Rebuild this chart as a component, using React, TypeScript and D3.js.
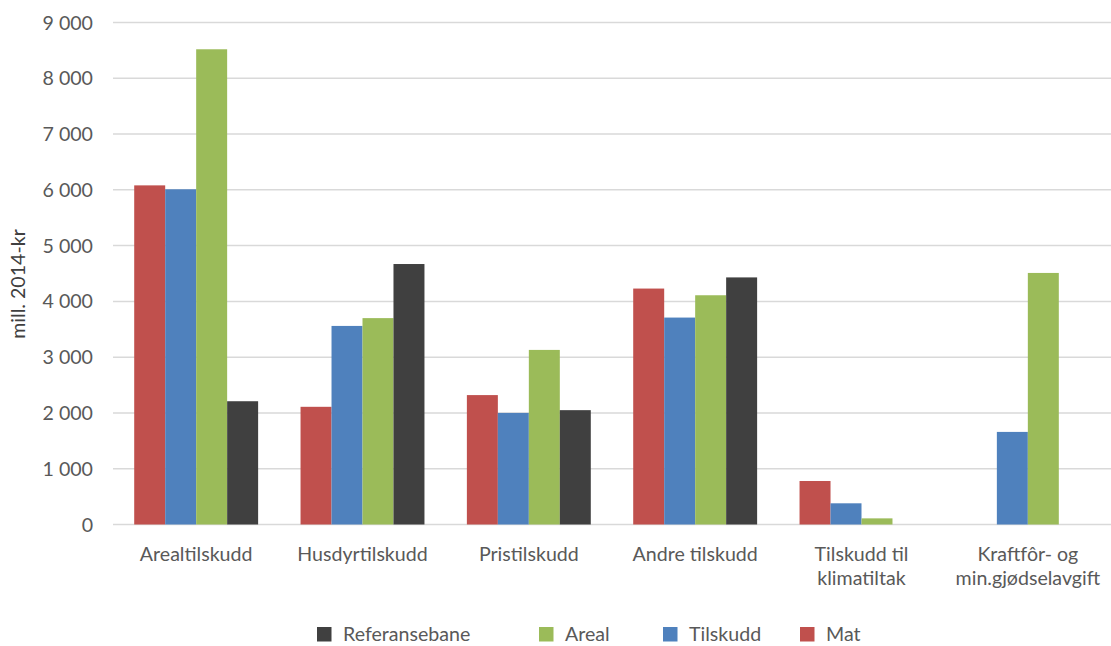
import React from "react";
import * as d3 from "d3";

// Categories (x axis), with line breaks for wrapped labels
const categories = [
  "Arealtilskudd",
  "Husdyrtilskudd",
  "Pristilskudd",
  "Andre tilskudd",
  "Tilskudd til\nklimatiltak",
  "Kraftfôr- og\nmin.gjødselavgift",
];

// Series values, mill. 2014-kr
const mat = [6080, 2110, 2320, 4230, 780, 0];
const tilskudd = [6010, 3560, 2000, 3710, 380, 1660];
const areal = [8520, 3700, 3130, 4110, 110, 4510];
const referansebane = [2210, 4670, 2050, 4430, 0, 0];

const yTicks = [0, 1000, 2000, 3000, 4000, 5000, 6000, 7000, 8000, 9000];

const seriesNames = ["Mat", "Tilskudd", "Areal", "Referansebane"];
const seriesValues = [mat, tilskudd, areal, referansebane];
const seriesColors = ["#c0504d", "#4f81bd", "#9bbb59", "#404040"];
const legendOrder = ["Referansebane", "Areal", "Tilskudd", "Mat"];

const W = 1111;
const H = 646;
const FONT = "Lato, 'Open Sans', sans-serif";
const TEXT = "#595959";
const FS = 19.6;

const fmt = (v: number) => d3.format(",")(v).replace(/,/g, " ");

export default function App() {
  const left = 113;
  const right = 1111;
  const top = 22.5;
  const bottom = 524.5;

  const x = d3
    .scaleBand<string>()
    .domain(categories)
    .range([left, right])
    .paddingInner(0.255)
    .paddingOuter(0.1275);
  const xs = d3
    .scaleBand<string>()
    .domain(seriesNames)
    .range([0, x.bandwidth()]);
  const y = d3.scaleLinear().domain([0, 9000]).range([bottom, top]);

  const legendX = [317, 539, 663, 800];

  return (
    <svg
      width={W}
      height={H}
      style={{ position: "absolute", left: 0, top: 0, background: "#fff" }}
      fontFamily={FONT}
    >
      {/* gridlines */}
      {yTicks.map((t) => (
        <line
          key={"g" + t}
          x1={left}
          x2={right}
          y1={y(t)}
          y2={y(t)}
          stroke="#d9d9d9"
          strokeWidth={1.5}
        />
      ))}
      {/* y tick labels */}
      {yTicks.map((t) => (
        <text
          key={"t" + t}
          x={93}
          y={y(t)}
          dy="0.36em"
          textAnchor="end"
          fontSize={FS}
          fill={TEXT}
        >
          {fmt(t)}
        </text>
      ))}
      {/* y axis title */}
      <text
        transform={`translate(25,284) rotate(-90)`}
        textAnchor="middle"
        fontSize={FS}
        fill="#404040"
      >
        mill. 2014-kr
      </text>
      {/* bars */}
      {categories.map((c, i) => (
        <g key={c} transform={`translate(${x(c)},0)`}>
          {seriesNames.map((s, j) => {
            const v = seriesValues[j][i];
            if (!v) return null;
            return (
              <rect
                key={s}
                x={xs(s)}
                width={xs.bandwidth()}
                y={y(v)}
                height={y(0) - y(v)}
                fill={seriesColors[j]}
              />
            );
          })}
        </g>
      ))}
      {/* category labels, one text element per line */}
      {categories.map((c) =>
        c.split("\n").map((line, k) => (
          <text
            key={"c" + c + k}
            x={(x(c) as number) + x.bandwidth() / 2}
            y={561 + k * 23.5}
            textAnchor="middle"
            fontSize={FS}
            fill={TEXT}
          >
            {line}
          </text>
        ))
      )}
      {/* legend */}
      {legendOrder.map((name, k) => {
        const j = seriesNames.indexOf(name);
        return (
          <g key={name} transform={`translate(${legendX[k]},0)`}>
            <rect x={0} y={627} width={14.5} height={14.5} fill={seriesColors[j]} />
            <text x={26} y={641} fontSize={FS} fill={TEXT}>
              {name}
            </text>
          </g>
        );
      })}
    </svg>
  );
}
